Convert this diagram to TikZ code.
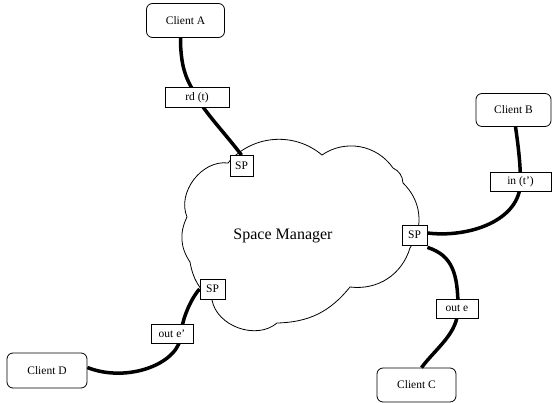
\documentclass[tikz,border=0pt]{standalone}
\usepackage{fontspec}
\setmainfont{Liberation Serif}
\begin{document}
\begin{tikzpicture}[x=1pt,y=-1pt,
  client/.style={draw,line width=0.8pt,rounded corners=6pt,fill=white,inner sep=0pt,font=\fontsize{11.5}{13}\selectfont},
  lab/.style={draw,line width=0.8pt,fill=white,inner sep=0pt,font=\fontsize{11.5}{13}\selectfont},
  wire/.style={line width=3.5pt},
  cloudline/.style={line width=0.8pt}]
\useasboundingbox (0,0) rectangle (552,403);
% cloud
\draw[cloudline] (187,217) to[bend left=60] (228,163) to[bend left=45] (322,155)
  to[bend left=45] (393,168) to[bend left=30] (403,183) to[bend left=40] (410,248)
  to[bend left=40] (350,287) to[bend left=25] (277,323) to[bend left=60] (212,300)
  to[bend left=20] (190,262) to[bend left=30] cycle;
\node[font=\fontsize{16}{18}\selectfont] (sm) at (283,236) {Space Manager};
% nodes
\node[client,minimum width=78pt,minimum height=34pt] (A) at (185.5,20.5) {Client A};
\node[client,minimum width=75pt,minimum height=33pt] (B) at (513.5,110) {Client B};
\node[client,minimum width=79pt,minimum height=34pt] (C) at (416.5,385) {Client C};
\node[client,minimum width=80pt,minimum height=35pt] (D) at (47,370.5) {Client D};
\node[lab,minimum width=23pt,minimum height=21pt] (sp1) at (241.5,166) {SP};
\node[lab,minimum width=25pt,minimum height=20pt] (sp2) at (414.5,235) {SP};
\node[lab,minimum width=25pt,minimum height=20pt] (sp3) at (212.5,289) {SP};
% wires
\draw[wire] ([xshift=-5pt]A.south) .. controls +(0,35) and +(-8,-15) .. (197,97.5) coordinate (rdc)
  .. controls +(8,15) and +(-15,-20) .. (sp1.north);
\draw[wire] ([xshift=2pt]B.south) .. controls +(3,20) and +(0,-15) .. (520.5,181.5) coordinate (inc)
  .. controls +(0,40) and +(40,5) .. ([yshift=2pt]sp2.east);
\draw[wire] ([yshift=-2pt]sp2.south east) .. controls +(25,8) and +(0,-35) .. (458,308.5) coordinate (oec)
  .. controls +(0,25) and +(15,-20) .. ([xshift=5pt]C.north);
\draw[wire] ([yshift=3pt]D.east) .. controls +(40,16) and +(0,30) .. (181,333.5) coordinate (oedc)
  .. controls +(2,-20) and +(-5,5) .. (sp3.west);
% labels on wires
\node[lab,minimum width=64pt,minimum height=20pt] (rd) at (rdc) {rd (t)};
\node[lab,minimum width=61pt,minimum height=19pt] (in) at (inc) {in (t')};
\node[lab,minimum width=42pt,minimum height=19pt] (oe) at ([xshift=-1pt]oec) {out e};
\node[lab,minimum width=42pt,minimum height=19pt] (oed) at ([xshift=-9pt]oedc) {out e'};
% redraw SP nodes on top
\node[lab,minimum width=23pt,minimum height=21pt] at (sp1) {SP};
\node[lab,minimum width=25pt,minimum height=20pt] at (sp2) {SP};
\node[lab,minimum width=25pt,minimum height=20pt] at (sp3) {SP};
\end{tikzpicture}
\end{document}
